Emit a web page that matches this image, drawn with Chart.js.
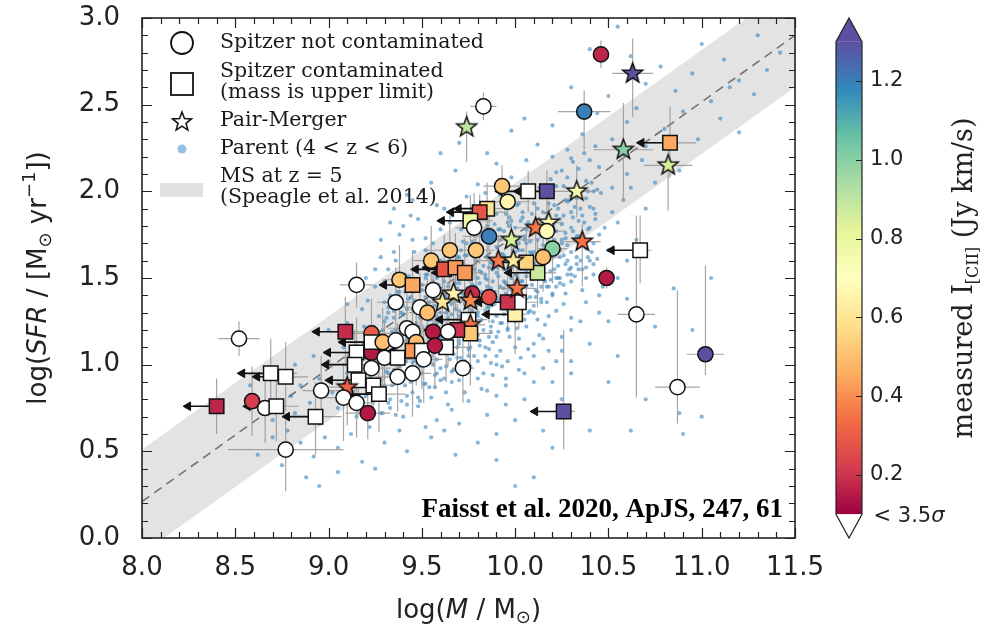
<!DOCTYPE html>
<html lang="en">
<head>
<meta charset="UTF-8">
<title>[CII] emitters on the z ~ 5 main sequence</title>
<script src="https://cdn.jsdelivr.net/npm/chart.js@4.4.1/dist/chart.umd.min.js"></script>
<style>
  body { margin: 0; background: #fff; }
  .chart-box { width: 981px; height: 628px; position: relative; }
</style>
</head>
<body>
<div class="chart-box"><canvas id="ms-chart"></canvas></div>
<script>
// ---------------- data ----------------
const xTickValues = [8.0, 8.5, 9.0, 9.5, 10.0, 10.5, 11.0, 11.5];
const yTickValues = [0.0, 0.5, 1.0, 1.5, 2.0, 2.5, 3.0];
const cbarTickValues = [0.2, 0.4, 0.6, 0.8, 1.0, 1.2];

// colour normalisation of the [CII] flux (Jy km/s)
const fluxMin = 0.1;
const fluxMax = 1.3;

// Speagle et al. (2014) main sequence at z = 5
const msMass = [8.0, 11.5];
const msSfr = [0.21, 2.90];
const msScatter = 0.3;

// mass upper limits: arrow length in dex
const limitArrow = 0.18;

// sample: kind 'o' = not contaminated, 's' = contaminated (mass upper limit), '*' = pair/merger
// flux null = below 3.5 sigma
const galMass = [
  10.46, 10.63, 10.37, 10.83, 10.58, 10.82, 9.74, 9.83, 10.33, 10.17,
  10.07, 9.93, 9.96, 9.85, 9.81, 9.76, 9.78, 9.86, 10.11, 10.18,
  10.17, 9.98, 10.36, 10.20, 10.15, 10.12, 10.06, 9.91, 9.99, 9.65,
  9.79, 10.67, 10.49, 10.65, 11.02, 10.87, 10.26, 10.00, 10.02, 9.96,
  10.01, 9.77, 9.86, 9.67, 9.76, 9.75, 9.76, 9.76, 9.69, 9.64,
  9.63, 9.72, 9.55, 9.62, 9.68, 9.73, 9.15, 9.38, 9.45, 9.56,
  9.61, 9.36, 9.49, 9.53, 9.09, 9.23, 9.23, 9.23, 9.29, 9.36,
  9.42, 9.45, 9.47, 9.45, 9.50, 9.56, 9.57, 9.15, 9.30, 9.37,
  9.51, 9.14, 9.23, 9.37, 9.45, 9.16, 9.10, 9.24, 9.27, 8.96,
  9.08, 9.15, 9.21, 8.93, 8.52, 8.69, 8.77, 8.40, 8.59, 8.66,
  8.72, 8.77
];
const galSfr = [
  2.79, 2.68, 2.46, 2.28, 2.24, 2.15, 2.37, 2.49, 2.00, 2.00,
  2.00, 2.03, 1.94, 1.90, 1.88, 1.83, 1.79, 1.74, 1.79, 1.82,
  1.77, 1.72, 1.71, 1.67, 1.62, 1.53, 1.59, 1.60, 1.60, 1.66,
  1.66, 1.66, 1.50, 1.29, 1.06, 0.87, 0.73, 1.29, 1.36, 1.36,
  1.44, 1.41, 1.39, 1.41, 1.37, 1.26, 1.23, 1.18, 1.20, 1.19,
  1.10, 0.98, 1.60, 1.55, 1.56, 1.53, 1.46, 1.49, 1.46, 1.43,
  1.36, 1.36, 1.33, 1.30, 1.19, 1.18, 1.07, 1.13, 1.13, 1.14,
  1.21, 1.19, 1.13, 1.08, 1.08, 1.19, 1.11, 1.07, 1.04, 1.04,
  1.03, 1.00, 0.98, 0.93, 0.95, 0.91, 0.87, 0.88, 0.83, 0.85,
  0.81, 0.78, 0.72, 0.70, 1.15, 0.95, 0.93, 0.76, 0.79, 0.75,
  0.76, 0.51
];
const galFlux = [
  0.17, 1.40, 1.20, 0.45, 1.00, 0.85, 0.90, null, 0.75, 1.40,
  null, 0.52, 0.66, 0.60, 0.28, 0.78, null, 1.20, 0.36, 0.66,
  0.68, 0.85, 0.35, 1.00, 0.50, 0.88, 0.55, 0.36, 0.62, 0.52,
  0.52, null, 0.15, null, 1.40, null, 1.40, 0.65, null, 0.20,
  0.36, 0.18, 0.26, 0.66, 0.40, null, 0.35, 0.52, 0.20, null,
  null, null, 0.52, 0.28, 0.42, 0.42, null, 0.52, 0.45, null,
  0.62, null, null, 0.50, 0.18, 0.30, 0.15, null, 0.50, null,
  null, null, 0.50, 0.42, null, 0.15, 0.15, null, null, null,
  null, null, null, null, null, null, 0.30, null, null, null,
  null, null, 0.15, null, null, null, null, 0.17, 0.22, null,
  null, null
];
const galKind = [
  'o', '*', 'o', 's', '*', '*', '*', 'o', '*', 's',
  's', 'o', 'o', 's', 's', 's', 'o', 'o', '*', '*',
  'o', '*', '*', 'o', 'o', 's', 's', '*', '*', 'o',
  'o', 's', 'o', 'o', 'o', 'o', 's', 's', 's', 's',
  '*', 'o', 'o', '*', '*', 's', '*', 's', 's', 'o',
  's', 'o', 'o', 's', 's', 's', 'o', 'o', 's', 'o',
  '*', 'o', 'o', 'o', 's', 'o', 'o', 's', 'o', 'o',
  'o', 'o', 'o', 's', 's', 'o', 'o', 's', 'o', 's',
  'o', 's', 'o', 'o', 'o', 's', '*', 's', 's', 'o',
  'o', 'o', 'o', 's', 'o', 's', 's', 's', 'o', 'o',
  's', 'o'
];
const galMassErr = [
  0.03, 0.11, 0.14, 0.14, 0.16, 0.13, 0.03, 0.07, 0.10, 0.08,
  0.08, 0.10, 0.12, 0.10, 0.15, 0.12, 0.10, 0.14, 0.10, 0.08,
  0.10, 0.12, 0.10, 0.08, 0.09, 0.10, 0.10, 0.12, 0.10, 0.13,
  0.10, 0.06, 0.02, 0.10, 0.10, 0.12, 0.06, 0.06, 0.10, 0.12,
  0.10, 0.09, 0.10, 0.12, 0.10, 0.10, 0.08, 0.12, 0.10, 0.10,
  0.12, 0.06, 0.10, 0.12, 0.10, 0.10, 0.09, 0.08, 0.10, 0.10,
  0.12, 0.10, 0.08, 0.10, 0.10, 0.10, 0.12, 0.10, 0.12, 0.10,
  0.10, 0.08, 0.10, 0.12, 0.10, 0.10, 0.08, 0.12, 0.10, 0.12,
  0.10, 0.12, 0.10, 0.12, 0.10, 0.14, 0.10, 0.12, 0.14, 0.10,
  0.12, 0.10, 0.12, 0.14, 0.11, 0.14, 0.12, 0.04, 0.04, 0.10,
  0.12, 0.31
];
const galSfrErrLo = [
  0.08, 0.25, 0.22, 0.20, 0.30, 0.26, 0.20, 0.08, 0.15, 0.12,
  0.12, 0.12, 0.15, 0.30, 0.30, 0.20, 0.30, 0.25, 0.20, 0.15,
  0.15, 0.20, 0.26, 0.20, 0.20, 0.20, 0.20, 0.20, 0.20, 0.25,
  0.20, 0.19, 0.06, 0.48, 0.12, 0.21, 0.22, 0.23, 0.15, 0.15,
  0.15, 0.18, 0.15, 0.18, 0.22, 0.20, 0.15, 0.30, 0.20, 0.20,
  0.20, 0.20, 0.22, 0.20, 0.25, 0.20, 0.13, 0.22, 0.20, 0.20,
  0.25, 0.20, 0.18, 0.25, 0.20, 0.20, 0.22, 0.20, 0.25, 0.20,
  0.20, 0.18, 0.25, 0.20, 0.22, 0.20, 0.25, 0.20, 0.22, 0.20,
  0.25, 0.20, 0.22, 0.20, 0.25, 0.20, 0.22, 0.20, 0.22, 0.20,
  0.25, 0.20, 0.15, 0.22, 0.10, 0.22, 0.20, 0.16, 0.20, 0.20,
  0.20, 0.24
];
const galSfrErrHi = [
  0.08, 0.20, 0.12, 0.21, 0.27, 0.15, 0.09, 0.08, 0.15, 0.12,
  0.12, 0.12, 0.10, 0.15, 0.10, 0.15, 0.20, 0.20, 0.15, 0.12,
  0.10, 0.10, 0.10, 0.12, 0.12, 0.20, 0.20, 0.15, 0.15, 0.20,
  0.20, 0.20, 0.06, 0.57, 0.51, 0.56, 0.47, 0.20, 0.15, 0.15,
  0.15, 0.15, 0.15, 0.15, 0.15, 0.15, 0.15, 0.20, 0.15, 0.15,
  0.15, 0.15, 0.20, 0.20, 0.20, 0.20, 0.13, 0.20, 0.20, 0.20,
  0.20, 0.20, 0.20, 0.20, 0.20, 0.20, 0.20, 0.20, 0.20, 0.20,
  0.20, 0.20, 0.20, 0.20, 0.20, 0.20, 0.20, 0.20, 0.20, 0.20,
  0.20, 0.20, 0.20, 0.20, 0.20, 0.20, 0.20, 0.20, 0.20, 0.20,
  0.20, 0.20, 0.15, 0.20, 0.10, 0.20, 0.20, 0.16, 0.20, 0.20,
  0.20, 0.17
];

// parent sample 4 < z < 6: [log M, log SFR]
const parentPoints = [
  [8.92,0.47],[9.05,0.52],[9.18,0.44],[9.3,0.55],[9.42,0.5],[9.55,0.58],[9.68,0.48],[9.8,0.55],[9.12,0.6],[9.38,0.62],
  [8.98,0.58],[9.62,0.62],[9.9,0.6],[9.25,0.4],[8.85,0.55],
  [8.7,0.68],[8.82,0.72],[8.95,0.66],[9.05,0.75],[9.15,0.7],[9.22,0.64],[9.32,0.78],[9.4,0.7],[9.48,0.76],[9.58,0.68],
  [9.66,0.74],[9.75,0.79],[9.85,0.71],[9.95,0.77],[10.05,0.8],[9.28,0.72],[9.52,0.64],[9.1,0.79],[8.9,0.78],[9.7,0.66],
  [8.78,0.62],[10.0,0.68],
  [8.85,0.88],[8.95,0.92],[9.02,0.84],[9.1,0.95],[9.18,0.88],[9.25,0.98],[9.3,0.85],[9.35,0.93],[9.42,0.82],[9.46,0.97],
  [9.52,0.89],[9.58,0.95],[9.63,0.84],[9.7,0.91],[9.76,0.99],[9.82,0.86],[9.88,0.94],[9.95,0.88],[10.02,0.97],[10.1,0.9],
  [9.38,0.99],[9.55,0.81],[9.2,0.82],[9.67,0.97],[9.44,0.9],[9.9,0.82],[10.15,0.98],
  [9.0,1.02],[9.08,1.1],[9.15,1.05],[9.2,1.15],[9.26,1.03],[9.3,1.12],[9.34,1.19],[9.38,1.06],[9.42,1.14],[9.45,1.01],
  [9.48,1.18],[9.52,1.09],[9.55,1.16],[9.58,1.03],[9.61,1.12],[9.64,1.19],[9.67,1.06],[9.7,1.14],[9.73,1.02],[9.76,1.1],
  [9.8,1.17],[9.84,1.05],[9.88,1.13],[9.92,1.08],[9.97,1.16],[10.03,1.04],[10.1,1.12],[10.18,1.08],[9.5,1.04],[9.6,1.08],
  [9.66,1.15],[9.36,1.1],[9.78,1.19],[9.87,1.01],[10.25,1.16],[9.12,1.18],[9.44,1.08],[9.72,1.18],
  [9.1,1.24],[9.18,1.32],[9.24,1.22],[9.3,1.36],[9.35,1.27],[9.4,1.34],[9.44,1.23],[9.48,1.31],[9.52,1.39],[9.55,1.26],
  [9.59,1.34],[9.62,1.21],[9.66,1.29],[9.69,1.37],[9.72,1.25],[9.75,1.33],[9.79,1.22],[9.82,1.38],[9.85,1.28],[9.89,1.35],
  [9.92,1.24],[9.96,1.31],[10.0,1.38],[10.05,1.26],[10.1,1.34],[10.16,1.23],[10.22,1.31],[10.3,1.27],[9.57,1.3],[9.64,1.36],
  [9.77,1.28],[9.87,1.22],[9.93,1.39],[9.46,1.37],[9.7,1.23],[10.08,1.39],[10.38,1.36],
  [9.25,1.45],[9.32,1.55],[9.38,1.42],[9.43,1.51],[9.5,1.46],[9.55,1.58],[9.6,1.43],[9.64,1.52],[9.68,1.47],[9.72,1.59],
  [9.76,1.41],[9.8,1.5],[9.83,1.57],[9.87,1.44],[9.9,1.53],[9.94,1.48],[9.98,1.56],[10.02,1.42],[10.06,1.51],[10.1,1.58],
  [10.14,1.45],[10.19,1.54],[10.24,1.47],[10.3,1.56],[10.36,1.43],[10.42,1.52],[9.66,1.55],[9.85,1.49],[9.95,1.41],[10.04,1.59],
  [9.74,1.5],[10.12,1.5],[9.58,1.5],[10.47,1.45],
  [9.35,1.65],[9.45,1.72],[9.52,1.66],[9.6,1.78],[9.66,1.63],[9.72,1.71],[9.78,1.79],[9.82,1.64],[9.86,1.73],[9.9,1.68],
  [9.94,1.77],[9.98,1.62],[10.02,1.7],[10.06,1.78],[10.1,1.65],[10.14,1.74],[10.18,1.69],[10.22,1.77],[10.26,1.63],[10.32,1.72],
  [10.38,1.67],[10.45,1.75],[9.88,1.61],[10.0,1.79],[10.12,1.61],[9.76,1.68],[10.3,1.79],[10.5,1.66],
  [9.48,1.84],[9.58,1.92],[9.66,1.86],[9.74,1.97],[9.8,1.83],[9.86,1.9],[9.92,1.98],[9.97,1.85],[10.02,1.93],[10.07,1.82],
  [10.12,1.9],[10.17,1.97],[10.22,1.86],[10.28,1.94],[10.34,1.83],[10.4,1.91],[10.46,1.99],[10.52,1.88],[9.45,1.95],[9.9,1.87],
  [10.08,1.99],[10.25,1.81],[10.58,1.95],
  [9.55,2.05],[9.68,2.12],[9.8,2.04],[9.9,2.16],[9.98,2.08],[10.06,2.18],[10.14,2.03],[10.22,2.11],[10.3,2.19],[10.38,2.06],
  [10.45,2.14],[10.52,2.02],[10.6,2.1],[10.68,2.18],[10.75,2.05],[10.88,2.12],[10.35,2.0],[10.2,2.2],
  [9.7,2.28],[9.85,2.22],[9.98,2.35],[10.05,2.42],[10.12,2.27],[10.2,2.38],[10.28,2.24],[10.36,2.33],[10.44,2.45],[10.52,2.3],
  [10.6,2.4],[10.7,2.26],[10.8,2.36],[10.9,2.46],[10.98,2.3],[11.1,2.42],[11.2,2.34],[10.65,2.48],[10.85,2.25],
  [10.3,2.6],[10.5,2.55],[10.62,2.78],[10.7,2.62],[10.78,2.72],[10.86,2.58],[10.95,2.68],[11.05,2.52],[11.12,2.76],[11.2,2.64],
  [11.28,2.56],[11.35,2.7],[11.42,2.8],[11.3,2.9],[11.0,2.85],[10.4,2.82],[10.55,2.95],[11.15,2.6],
  [10.3,1.2],[10.45,1.3],[10.55,1.05],[10.6,1.38],[10.75,1.22],[10.85,1.44],[10.5,0.9],[10.7,0.8],[10.4,0.62],[10.2,0.52],
  [10.1,0.35],[10.9,0.6],[11.0,0.7],[10.88,0.72],[10.62,0.62],[10.3,0.95],[10.25,0.8],[10.15,0.62],[11.05,1.5],[10.95,1.2],
  [9.9,0.45],[10.0,0.3],
  [8.62,0.48],[8.7,0.58],[8.75,0.42],[8.8,0.82],[8.88,0.35],[8.92,1.05],[9.0,1.2],[8.95,0.3],[9.05,0.38],[8.68,0.92],
  [8.58,0.88],[8.82,1.0],[9.1,1.35],[9.2,1.5],[9.28,1.62],[9.4,1.8],[9.35,1.9],[9.5,2.0],[9.6,2.22],
  [9.41,1.02],[9.47,1.24],[9.53,1.45],[9.57,1.2],[9.63,1.41],[9.69,1.62],[9.71,1.04],[9.74,1.44],[9.79,1.6],[9.81,1.11],
  [9.84,1.31],[9.87,1.7],[9.91,1.19],[9.93,1.58],[9.96,1.02],[9.99,1.45],[10.01,1.21],[10.04,1.66],[10.07,1.3],[10.09,1.46],
  [10.11,1.83],[10.13,1.17],[10.16,1.62],[10.2,1.4],[10.23,1.57],[10.27,1.73],[10.33,1.62],[10.35,1.9],[9.51,1.33],[9.62,0.92],
  [9.73,0.84],[9.83,0.95],[9.94,1.29],[9.48,1.55],[9.56,1.7],[9.65,1.82],[9.77,1.9],[9.34,1.02],[9.28,1.16],[9.22,0.93],
  [9.16,1.0],[9.4,1.24],[9.6,1.6],[9.7,1.52],[10.0,1.52],[10.17,1.36],
  [9.43,1.16],[9.49,1.27],[9.54,1.36],[9.59,1.46],[9.61,1.25],[9.65,1.03],[9.68,1.32],[9.71,1.42],[9.75,1.56],[9.78,1.37],
  [9.81,1.47],[9.83,1.2],[9.86,1.56],[9.89,1.41],[9.91,1.63],[9.95,1.35],[9.97,1.71],[10.0,1.25],[10.03,1.48],[10.05,1.72],
  [10.08,1.56],[10.11,1.43],[10.15,1.69],[10.19,1.49],[10.21,1.82],[10.24,1.66],[10.28,1.52],[10.31,1.85],[10.34,1.7],[10.4,1.6],
  [10.43,1.84],[9.39,1.3],[9.33,1.4],[9.31,1.06],[9.27,1.28],[9.21,1.37],[9.19,1.22],[9.26,0.9],[9.33,0.8],[9.41,0.88],
  [9.49,0.79],[9.57,0.87],[9.64,0.77],[9.8,0.92],[9.86,1.09],[9.93,0.99],[10.07,1.09],[10.12,1.26],[10.27,1.41],[10.22,1.02],
  [9.52,1.73],[9.62,1.9],[9.71,1.78],[9.84,1.99],[9.95,1.9],[10.05,2.04],[10.18,1.93],[10.26,2.03],[10.42,2.0],[10.48,1.79],
  [9.45,1.2],[9.5,1.12],[9.53,1.22],[9.58,1.28],[9.6,1.16],[9.63,1.3],[9.66,1.22],[9.69,1.1],[9.7,1.28],[9.73,1.35],
  [9.75,1.2],[9.77,1.46],[9.8,1.3],[9.82,1.42],[9.84,1.52],[9.86,1.36],[9.88,1.48],[9.9,1.28],[9.92,1.45],[9.94,1.55],
  [9.96,1.4],[9.98,1.5],[10.0,1.6],[10.02,1.35],[10.04,1.55],[10.06,1.45],[10.08,1.65],[10.1,1.52],[10.12,1.72],[10.14,1.58],
  [10.16,1.48],[10.18,1.75],[10.2,1.62],[10.22,1.5],[10.25,1.7],[10.28,1.6],[9.55,1.42],[9.58,1.56],[9.62,1.48],[9.66,1.4],
  [9.7,1.62],[9.74,1.7],[9.78,1.55],[9.82,1.66],[9.85,1.8],[9.88,1.58],[9.92,1.72],[9.96,1.82],[10.0,1.68],[10.04,1.85],
  [9.42,1.32],[9.45,1.42],[9.48,1.12],[9.52,1.52],[9.36,1.2],[9.38,1.48],[9.32,1.3],[9.29,1.2],[9.35,1.05],[9.44,0.98],
  [9.5,0.95],[9.56,1.0],[9.6,0.98],[9.66,0.9],[9.7,1.0],[9.75,1.05],[9.8,1.02],[9.86,1.16],[9.9,1.05],[9.96,1.2],
  [10.02,1.15],[10.06,1.22],[10.1,1.3],[10.14,1.38],[10.18,1.28],[10.22,1.45],[10.26,1.35],[10.3,1.48],[10.34,1.55],[10.38,1.5],
  [9.31,0.96],[9.31,1.14],[9.31,1.27],[9.34,1.09],[9.34,0.88],[9.34,1.33],[9.37,1.01],[9.37,1.18],[9.37,1.42],[9.40,1.06],
  [9.40,1.29],[9.40,0.94],[9.43,1.11],[9.43,1.38],[9.43,1.04],[9.46,1.02],[9.46,1.21],[9.46,1.47],[9.49,1.15],[9.49,1.35],
  [9.49,0.99],[9.52,1.08],[9.52,1.27],[9.52,1.50],[9.55,1.13],[9.55,1.33],[9.55,1.05],[9.58,1.24],[9.58,1.41],[9.58,1.12],
  [9.61,1.17],[9.61,1.36],[9.61,1.55],[9.64,1.10],[9.64,1.27],[9.64,1.45],[9.67,1.19],[9.67,1.38],[9.67,1.58],[9.70,1.31],
  [9.70,1.47],[9.70,1.12],[9.73,1.22],[9.73,1.40],[9.73,1.63],[9.76,1.27],[9.76,1.52],[9.76,1.15],[9.79,1.34],[9.79,1.45],
  [9.79,1.69],[9.82,1.26],[9.82,1.53],[9.82,1.75],[9.85,1.33],[9.85,1.62],[9.85,1.45],[9.88,1.41],[9.88,1.55],[9.88,1.25],
  [9.91,1.37],[9.91,1.51],[9.91,1.78],[9.94,1.44],[9.94,1.63],[9.94,1.32],[9.97,1.38],[9.97,1.57],[9.97,1.80],[10.00,1.47],
  [10.00,1.65],[10.00,1.33],[10.03,1.41],[10.03,1.60],[10.03,1.83],[10.06,1.54],[10.06,1.70],[10.06,1.38],[10.09,1.49],[10.09,1.64],
  [10.09,1.87],[10.12,1.56],[10.12,1.78],[10.12,1.42],[10.15,1.52],[10.15,1.66],[10.15,1.88],[10.18,1.60],[10.18,1.80],[10.18,1.45],
  [10.21,1.55],[10.21,1.72],[10.21,1.92],[10.24,1.62],[10.24,1.84],[10.24,1.50],[10.27,1.58],[10.27,1.76],[10.27,1.95],[10.30,1.65],
  [10.30,1.88],[10.30,1.52],[10.33,1.74],[10.33,1.58],[10.33,1.96],[10.36,1.69],[10.36,1.86],[10.36,1.55],[10.39,1.78],[10.39,1.62],
  [10.39,2.00],[10.42,1.70],[10.42,1.90],[10.42,1.58],
  [9.25,1.55],[9.28,1.72],[9.3,1.48],[9.33,1.82],[9.36,1.6],[9.38,1.75],[9.41,1.52],[9.44,1.86],[9.46,1.65],[9.42,1.98],
  [9.85,0.85],[9.9,1.0],[9.95,0.92],[10.0,1.1],[10.05,0.95],[10.1,1.05],[10.15,1.15],[10.2,0.9],[10.25,1.08],[10.3,1.02],
  [10.35,1.25],[10.4,1.12],[10.45,1.4],[10.5,1.25],[10.55,1.5],[10.6,1.6],[10.65,1.72],[10.55,1.82],[10.7,1.9],[10.62,2.02],
  [9.29,0.72],[9.30,0.88],[9.29,1.11],[9.30,1.25],[9.33,0.75],[9.32,0.95],[9.33,1.08],[9.32,1.33],
  [9.36,0.71],[9.35,0.97],[9.36,1.15],[9.35,1.31],[9.39,0.79],[9.38,0.93],[9.39,1.19],[9.38,1.38],
  [9.42,0.77],[9.41,1.02],[9.42,1.16],[9.41,1.42],[9.45,0.84],[9.44,0.98],[9.45,1.23],[9.44,1.39],
  [9.48,0.81],[9.47,1.06],[9.48,1.22],[9.47,1.46],[9.51,0.89],[9.50,1.03],[9.51,1.28],[9.50,1.43],
  [9.54,0.87],[9.53,1.11],[9.54,1.26],[9.53,1.52],[9.57,0.94],[9.56,1.07],[9.57,1.34],[9.56,1.48],
  [9.60,0.91],[9.59,1.16],[9.60,1.30],[9.59,1.56],[9.63,0.99],[9.62,1.13],[9.63,1.39],[9.62,1.53],
  [9.66,0.96],[9.65,1.21],[9.66,1.35],[9.65,1.62],[9.69,1.04],[9.68,1.18],[9.69,1.44],[9.68,1.58],
  [9.72,1.00],[9.71,1.26],[9.72,1.41],[9.71,1.66],[9.75,1.09],[9.74,1.23],[9.75,1.49],[9.74,1.63],
  [9.78,1.05],[9.77,1.31],[9.78,1.45],[9.77,1.71],[9.81,1.14],[9.80,1.28],[9.81,1.54],[9.80,1.68],
  [9.84,1.10],[9.83,1.37],[9.84,1.50],[9.83,1.76],[9.87,1.19],[9.86,1.33],[9.87,1.59],[9.86,1.73],
  [9.90,1.16],[9.89,1.42],[9.90,1.56],[9.89,1.81],[9.93,1.24],[9.92,1.38],[9.93,1.64],[9.92,1.78],
  [9.96,1.21],[9.95,1.47],[9.96,1.61],[9.95,1.87],[9.99,1.29],[9.98,1.43],[9.99,1.69],[9.98,1.83],
  [10.02,1.26],[10.01,1.52],[10.02,1.66],[10.01,1.92],[10.05,1.34],[10.04,1.48],[10.05,1.74],[10.04,1.88],
  [10.08,1.31],[10.07,1.57],[10.08,1.71],[10.07,1.97],[10.11,1.39],[10.10,1.53],[10.11,1.79],[10.10,1.93],
  [10.14,1.36],[10.13,1.62],[10.14,1.76],[10.13,2.02],[10.17,1.45],[10.16,1.59],[10.17,1.85],[10.16,1.98],
  [10.20,1.41],[10.19,1.67],[10.20,1.81],[10.19,2.07],[10.23,1.50],[10.22,1.64],[10.23,1.90],[10.22,2.03],
  [10.26,1.46],[10.25,1.72],[10.26,1.86],[10.25,2.12],[10.29,1.55],[10.28,1.69],[10.29,1.95],[10.28,2.08],
  [10.32,1.51],[10.31,1.77],[10.32,1.91],[10.31,2.17],[10.35,1.60],[10.34,1.74],[10.35,2.00],[10.34,2.13],
  [10.38,1.56],[10.37,1.82],[10.38,1.96],[10.37,2.22],[10.41,1.65],[10.40,1.79],[10.41,2.05],[10.40,2.18],
  [10.44,1.61],[10.43,1.87],[10.44,2.01],[10.43,2.26]
];

// ---------------- colour map (Spectral) ----------------
const spectral = ['#9e0142', '#d53e4f', '#f46d43', '#fdae61', '#fee08b', '#ffffbf',
                  '#e6f598', '#abdda4', '#66c2a5', '#3288bd', '#5e4fa2'];

function hexToRgb(h) {
  return [parseInt(h.slice(1, 3), 16), parseInt(h.slice(3, 5), 16), parseInt(h.slice(5, 7), 16)];
}

function fluxColor(v) {
  if (v === null) return '#ffffff';
  let t = (v - fluxMin) / (fluxMax - fluxMin);
  t = Math.min(1, Math.max(0, t));
  const p = t * (spectral.length - 1);
  const i = Math.min(Math.floor(p), spectral.length - 2);
  const f = p - i;
  const a = hexToRgb(spectral[i]), b = hexToRgb(spectral[i + 1]);
  const c = a.map((ch, k) => Math.round(ch + (b[k] - ch) * f));
  return `rgb(${c[0]}, ${c[1]}, ${c[2]})`;
}

// filled five-point star used as a point style
function starMarker(fill, outer) {
  const size = Math.ceil(outer * 2 + 8);
  const c = document.createElement('canvas');
  c.width = size; c.height = size;
  const g = c.getContext('2d');
  drawStar(g, size / 2, size / 2, outer, fill);
  return c;
}

function drawStar(g, cx, cy, outer, fill) {
  const inner = outer * 0.42;
  g.beginPath();
  for (let k = 0; k < 10; k++) {
    const r = k % 2 === 0 ? outer : inner;
    const ang = -Math.PI / 2 + k * Math.PI / 5;
    const px = cx + r * Math.cos(ang), py = cy + r * Math.sin(ang);
    if (k === 0) g.moveTo(px, py); else g.lineTo(px, py);
  }
  g.closePath();
  g.fillStyle = fill;
  g.fill();
  g.lineWidth = 1.5;
  g.strokeStyle = '#111';
  g.stroke();
}

// ---------------- datasets ----------------
const bandUpper = msMass.map((m, i) => ({ x: m, y: msSfr[i] + msScatter }));
const bandLower = msMass.map((m, i) => ({ x: m, y: msSfr[i] - msScatter }));
const msLine = msMass.map((m, i) => ({ x: m, y: msSfr[i] }));

const errorBars = [];
const arrowShafts = [];
const arrowHeads = [];
galMass.forEach((m, i) => {
  const s = galSfr[i];
  errorBars.push({ x: m - galMassErr[i], y: s }, { x: m + galMassErr[i], y: s }, { x: m, y: null });
  errorBars.push({ x: m, y: s - galSfrErrLo[i] }, { x: m, y: s + galSfrErrHi[i] }, { x: m, y: null });
  if (galKind[i] === 's') {
    arrowShafts.push({ x: m, y: s }, { x: m - limitArrow + 0.03, y: s }, { x: m, y: null });
    arrowHeads.push({ x: m - limitArrow + 0.027, y: s });
  }
});

const markerColors = galFlux.map(fluxColor);
const markerStyles = galKind.map((k, i) =>
  k === '*' ? starMarker(markerColors[i], 10.5) : (k === 's' ? 'rect' : 'circle'));
const markerRadii = galKind.map(k => (k === 's' ? 10.2 : (k === '*' ? 10 : 7.6)));

// ---------------- decorations: frame, inward ticks, colour bar, legend, titles ----------------
const SANS = "'DejaVu Sans', sans-serif";
const SERIF = "'DejaVu Serif', serif";

function richText(ctx, parts, cx, cy, angle) {
  ctx.save();
  ctx.translate(cx, cy);
  ctx.rotate(angle);
  ctx.textAlign = 'left';
  ctx.textBaseline = 'alphabetic';
  let total = 0;
  parts.forEach(p => { ctx.font = p[1]; total += ctx.measureText(p[0]).width; });
  let x = -total / 2;
  parts.forEach(p => {
    ctx.font = p[1];
    ctx.fillText(p[0], x, p[2]);
    x += ctx.measureText(p[0]).width;
  });
  ctx.restore();
}

const decorations = {
  id: 'decorations',
  afterDraw(chart) {
    const { ctx, chartArea: a, scales } = chart;
    const sx = scales.x, sy = scales.y, cb = scales.cbar;
    ctx.save();

    // inward ticks on all four sides (minor every 0.1)
    ctx.strokeStyle = '#222';
    ctx.lineWidth = 1.2;
    ctx.beginPath();
    for (let k = 0; k <= 35; k++) {
      const px = Math.round(sx.getPixelForValue(sx.min + k * 0.1)) + 0.5;
      const len = k % 5 === 0 ? 10 : 6;
      ctx.moveTo(px, a.bottom); ctx.lineTo(px, a.bottom - len);
      ctx.moveTo(px, a.top); ctx.lineTo(px, a.top + len);
    }
    for (let k = 0; k <= 30; k++) {
      const py = Math.round(sy.getPixelForValue(sy.min + k * 0.1)) + 0.5;
      const len = k % 5 === 0 ? 10 : 6;
      ctx.moveTo(a.left, py); ctx.lineTo(a.left + len, py);
      ctx.moveTo(a.right, py); ctx.lineTo(a.right - len, py);
    }
    ctx.stroke();

    // frame
    ctx.lineWidth = 1.6;
    ctx.strokeStyle = '#222';
    ctx.strokeRect(a.left, a.top, a.right - a.left, a.bottom - a.top);

    // colour bar
    const x0 = cb.left + 41, w = 26;
    const yHi = cb.getPixelForValue(fluxMax), yLo = cb.getPixelForValue(fluxMin);
    const yTip = cb.getPixelForValue(cb.max), yBase = cb.getPixelForValue(cb.min);
    const grad = ctx.createLinearGradient(0, yLo, 0, yHi);
    spectral.forEach((c, i) => grad.addColorStop(i / (spectral.length - 1), c));
    ctx.fillStyle = grad;
    ctx.fillRect(x0, yHi, w, yLo - yHi);
    ctx.beginPath();
    ctx.moveTo(x0, yHi); ctx.lineTo(x0 + w / 2, yTip); ctx.lineTo(x0 + w, yHi); ctx.closePath();
    ctx.fillStyle = spectral[spectral.length - 1];
    ctx.fill();
    ctx.beginPath();
    ctx.moveTo(x0, yLo); ctx.lineTo(x0 + w / 2, yBase); ctx.lineTo(x0 + w, yLo); ctx.closePath();
    ctx.fillStyle = '#ffffff';
    ctx.fill();
    ctx.beginPath();
    ctx.moveTo(x0, yHi); ctx.lineTo(x0 + w / 2, yTip); ctx.lineTo(x0 + w, yHi);
    ctx.lineTo(x0 + w, yLo); ctx.lineTo(x0 + w / 2, yBase); ctx.lineTo(x0, yLo); ctx.closePath();
    ctx.lineWidth = 1.2;
    ctx.strokeStyle = '#222';
    ctx.stroke();
    ctx.beginPath();
    cbarTickValues.forEach(v => {
      const py = Math.round(cb.getPixelForValue(v)) + 0.5;
      ctx.moveTo(x0 + w - 6, py); ctx.lineTo(x0 + w, py);
    });
    ctx.stroke();

    ctx.fillStyle = '#222';
    richText(ctx, [['< 3.5', `21px ${SANS}`, 0], ['\u03c3', `italic 21px ${SANS}`, 0]],
             x0 + w + 47, yLo + 8, 0);
    richText(ctx, [
      ['measured I', `27px ${SERIF}`, 0],
      ['[CII]', `16px ${SERIF}`, 6],
      [' (Jy km/s)', `27px ${SERIF}`, 0]
    ], 972, (a.top + a.bottom) / 2, -Math.PI / 2);

    // axis titles
    richText(ctx, [
      ['log(', `26px ${SANS}`, 0], ['M', `italic 26px ${SANS}`, 0], [' / M', `26px ${SANS}`, 0],
      ['\u2299', `18px ${SANS}`, 5], [')', `26px ${SANS}`, 0]
    ], (a.left + a.right) / 2, 618, 0);
    richText(ctx, [
      ['log(', `26px ${SANS}`, 0], ['SFR', `italic 26px ${SANS}`, 0], [' / [M', `26px ${SANS}`, 0],
      ['\u2299', `18px ${SANS}`, 5], [' yr', `26px ${SANS}`, 0], ['\u22121', `18px ${SANS}`, -11],
      ['])', `26px ${SANS}`, 0]
    ], 46, (a.top + a.bottom) / 2, -Math.PI / 2);

    // reference
    ctx.font = `bold 27px 'Liberation Serif', serif`;
    ctx.textAlign = 'right';
    ctx.textBaseline = 'alphabetic';
    ctx.fillStyle = '#000';
    ctx.fillText('Faisst et al. 2020, ApJS, 247, 61', a.right - 12, a.bottom - 21);

    // legend
    const lx = a.left + 40, tx = a.left + 78;
    ctx.lineWidth = 1.8;
    ctx.strokeStyle = '#111';
    ctx.fillStyle = '#fff';
    ctx.beginPath(); ctx.arc(lx, 43, 11, 0, Math.PI * 2); ctx.fill(); ctx.stroke();
    ctx.fillRect(lx - 11, 73, 22, 22); ctx.strokeRect(lx - 11, 73, 22, 22);
    drawStar(ctx, lx, 122, 10, '#fff');
    ctx.beginPath(); ctx.arc(lx, 149, 4.5, 0, Math.PI * 2);
    ctx.fillStyle = 'rgba(120, 170, 215, 0.75)'; ctx.fill();
    ctx.fillStyle = 'rgba(200, 200, 200, 0.55)';
    ctx.fillRect(lx - 22, 183, 43, 14);

    ctx.fillStyle = '#1a1a1a';
    ctx.font = `20.5px ${SERIF}`;
    ctx.textAlign = 'left';
    ctx.textBaseline = 'middle';
    [['Spitzer not contaminated', 43], ['Spitzer contaminated', 72], ['(mass is upper limit)', 93],
     ['Pair-Merger', 121], ['Parent (4 < z < 6)', 149], ['MS at z = 5', 177],
     ['(Speagle et al. 2014)', 198]].forEach(([t, y]) => ctx.fillText(t, tx, y));

    ctx.restore();
  }
};

// fixed axis boxes so the plot frame lands where it should
function fixBox(size, key) {
  return s => {
    s[key] = size;
    s.paddingTop = 0; s.paddingBottom = 0; s.paddingLeft = 0; s.paddingRight = 0;
  };
}

// ---------------- chart ----------------
const tickFont = { family: SANS, size: 26 };

new Chart(document.getElementById('ms-chart'), {
  type: 'scatter',
  data: {
    datasets: [
      {
        type: 'line', label: 'MS band', data: bandUpper, fill: '+1',
        backgroundColor: 'rgba(200, 200, 200, 0.5)', borderColor: 'transparent',
        pointRadius: 0, order: 6
      },
      {
        type: 'line', label: 'MS lower', data: bandLower, fill: false,
        borderColor: 'transparent', pointRadius: 0, order: 7
      },
      {
        type: 'line', label: 'MS at z = 5', data: msLine,
        borderColor: '#757575', borderWidth: 1.6, borderDash: [9, 6],
        pointRadius: 0, order: 5
      },
      {
        label: 'Parent (4 < z < 6)',
        data: parentPoints.map(([m, s]) => ({ x: m, y: s })),
        pointRadius: 2.1, pointBorderWidth: 0,
        pointBackgroundColor: 'rgba(49, 130, 189, 0.58)', order: 4
      },
      {
        type: 'line', label: 'errors', data: errorBars,
        borderColor: 'rgba(150, 150, 150, 0.85)', borderWidth: 1.2,
        pointRadius: 0, spanGaps: false, order: 3
      },
      {
        type: 'line', label: 'limit arrows', data: arrowShafts,
        borderColor: '#111', borderWidth: 1.6, pointRadius: 0, spanGaps: false, order: 2
      },
      {
        label: 'limit heads', data: arrowHeads,
        pointStyle: 'triangle', pointRotation: -90, pointRadius: 5,
        pointBackgroundColor: '#111', pointBorderColor: '#111', pointBorderWidth: 1, order: 1
      },
      {
        label: 'ALPINE',
        data: galMass.map((m, i) => ({ x: m, y: galSfr[i] })),
        pointStyle: markerStyles, pointRadius: markerRadii,
        pointBackgroundColor: markerColors, pointBorderColor: '#111', pointBorderWidth: 1.5,
        order: 0
      }
    ]
  },
  options: {
    responsive: true,
    maintainAspectRatio: false,
    animation: false,
    events: [],
    layout: { padding: { top: 18, left: 0, right: 0, bottom: 0 } },
    plugins: { legend: { display: false }, tooltip: { enabled: false } },
    scales: {
      x: {
        type: 'linear', position: 'bottom', min: 8.0, max: 11.5,
        grid: { display: false, drawTicks: false }, border: { display: false },
        afterBuildTicks: s => { s.ticks = xTickValues.map(v => ({ value: v })); },
        afterFit: fixBox(90, 'height'),
        ticks: { font: tickFont, color: '#222', padding: 15, maxRotation: 0,
                 callback: v => Number(v).toFixed(1) }
      },
      y: {
        type: 'linear', position: 'left', min: 0, max: 3,
        grid: { display: false, drawTicks: false }, border: { display: false },
        afterBuildTicks: s => { s.ticks = yTickValues.map(v => ({ value: v })); },
        afterFit: fixBox(142, 'width'),
        ticks: { font: tickFont, color: '#222', padding: 22,
                 callback: v => Number(v).toFixed(1) }
      },
      cbar: {
        type: 'linear', axis: 'y', position: 'right',
        min: fluxMin - 0.05 * (fluxMax - fluxMin), max: fluxMax + 0.05 * (fluxMax - fluxMin),
        grid: { display: false, drawTicks: false }, border: { display: false },
        afterBuildTicks: s => { s.ticks = cbarTickValues.map(v => ({ value: v })); },
        afterFit: fixBox(186, 'width'),
        ticks: { font: { family: SANS, size: 21 }, color: '#222', padding: 75,
                 callback: v => Number(v).toFixed(1) }
      }
    }
  },
  plugins: [decorations]
});
</script>
</body>
</html>
